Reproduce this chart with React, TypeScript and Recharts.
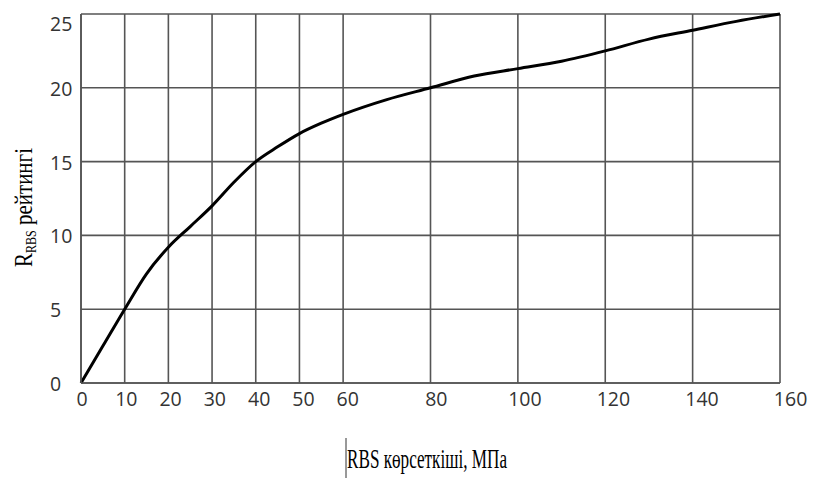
import React from 'react';
import { CartesianGrid, Line, LineChart, XAxis, YAxis } from 'recharts';

// RBS reading (MPa) and the matching R_RBS rating
const rbsValues = [0, 5, 10, 15, 20, 25, 30, 35, 40, 45, 50, 55, 60, 70, 80, 90, 100, 110, 120, 130, 140, 150, 160];
const ratingValues = [0, 2.5, 5.0, 7.4, 9.2, 10.6, 12.0, 13.6, 15.0, 16.0, 16.9, 17.6, 18.2, 19.2, 20.0, 20.8, 21.3, 21.8, 22.5, 23.3, 23.9, 24.5, 25.0];

const xTicks = [0, 10, 20, 30, 40, 50, 60, 80, 100, 120, 140, 160];
const yTicks = [0, 5, 10, 15, 20, 25];

const xTitle = 'RBS көрсеткіші, МПа';
const yTitleMain = 'R';
const yTitleSub = 'RBS';
const yTitleRest = ' рейтингі';

const data = rbsValues.map((x, i) => ({ x, r: ratingValues[i] }));

const gridColor = '#555';
const tickFont = "'Open Sans', sans-serif";
const titleFont = "'Liberation Serif', 'Times New Roman', serif";

const XTick = (props: any) => {
  const { x, y, payload } = props;
  const v = payload.value as number;
  return (
    <text x={x + 1 + v * 0.06} y={y + 15} textAnchor="middle" fontFamily={tickFont} fontSize={19.5} fill="#333">
      {v}
    </text>
  );
};

const YTick = (props: any) => {
  const { y, payload } = props;
  const v = payload.value as number;
  const dy = v === 25 ? 17 : 8;
  return (
    <text x={50} y={y + dy} textAnchor="start" fontFamily={tickFont} fontSize={19.5} fill="#333">
      {v}
    </text>
  );
};

const App = () => {
  return (
    <div style={{ position: 'absolute', left: 0, top: 0, width: 813, height: 479, background: '#fff' }}>
      <LineChart width={813} height={479} data={data} margin={{ top: 14, right: 33, left: 51, bottom: 66 }}>
        <CartesianGrid stroke={gridColor} strokeWidth={1.6} />
        <XAxis
          dataKey="x"
          type="number"
          domain={[0, 160]}
          ticks={xTicks}
          interval={0}
          height={30}
          axisLine={{ stroke: gridColor, strokeWidth: 1.6 }}
          tickLine={false}
          tick={<XTick />}
        />
        <YAxis
          type="number"
          domain={[0, 25]}
          ticks={yTicks}
          interval={0}
          width={30}
          axisLine={{ stroke: gridColor, strokeWidth: 1.6 }}
          tickLine={false}
          tick={<YTick />}
        />
        <Line
          type="monotone"
          dataKey="r"
          stroke="#000"
          strokeWidth={3}
          dot={false}
          isAnimationActive={false}
        />
        {/* axis titles */}
        <g transform="translate(32, 267) rotate(-90)">
          <text x={0} y={0} fontFamily={titleFont} fontSize={26} fill="#000" textLength={119} lengthAdjust="spacingAndGlyphs">
            {yTitleMain}
            <tspan fontSize={15} dy={4}>{yTitleSub}</tspan>
            <tspan dy={-4}>{yTitleRest}</tspan>
          </text>
        </g>
        <line x1={346} y1={438} x2={346} y2={478} stroke="#333" strokeWidth={1} />
        <text x={347} y={468} fontFamily={titleFont} fontSize={27} fill="#000" textLength={160} lengthAdjust="spacingAndGlyphs">
          {xTitle}
        </text>
      </LineChart>
    </div>
  );
};

export default App;
